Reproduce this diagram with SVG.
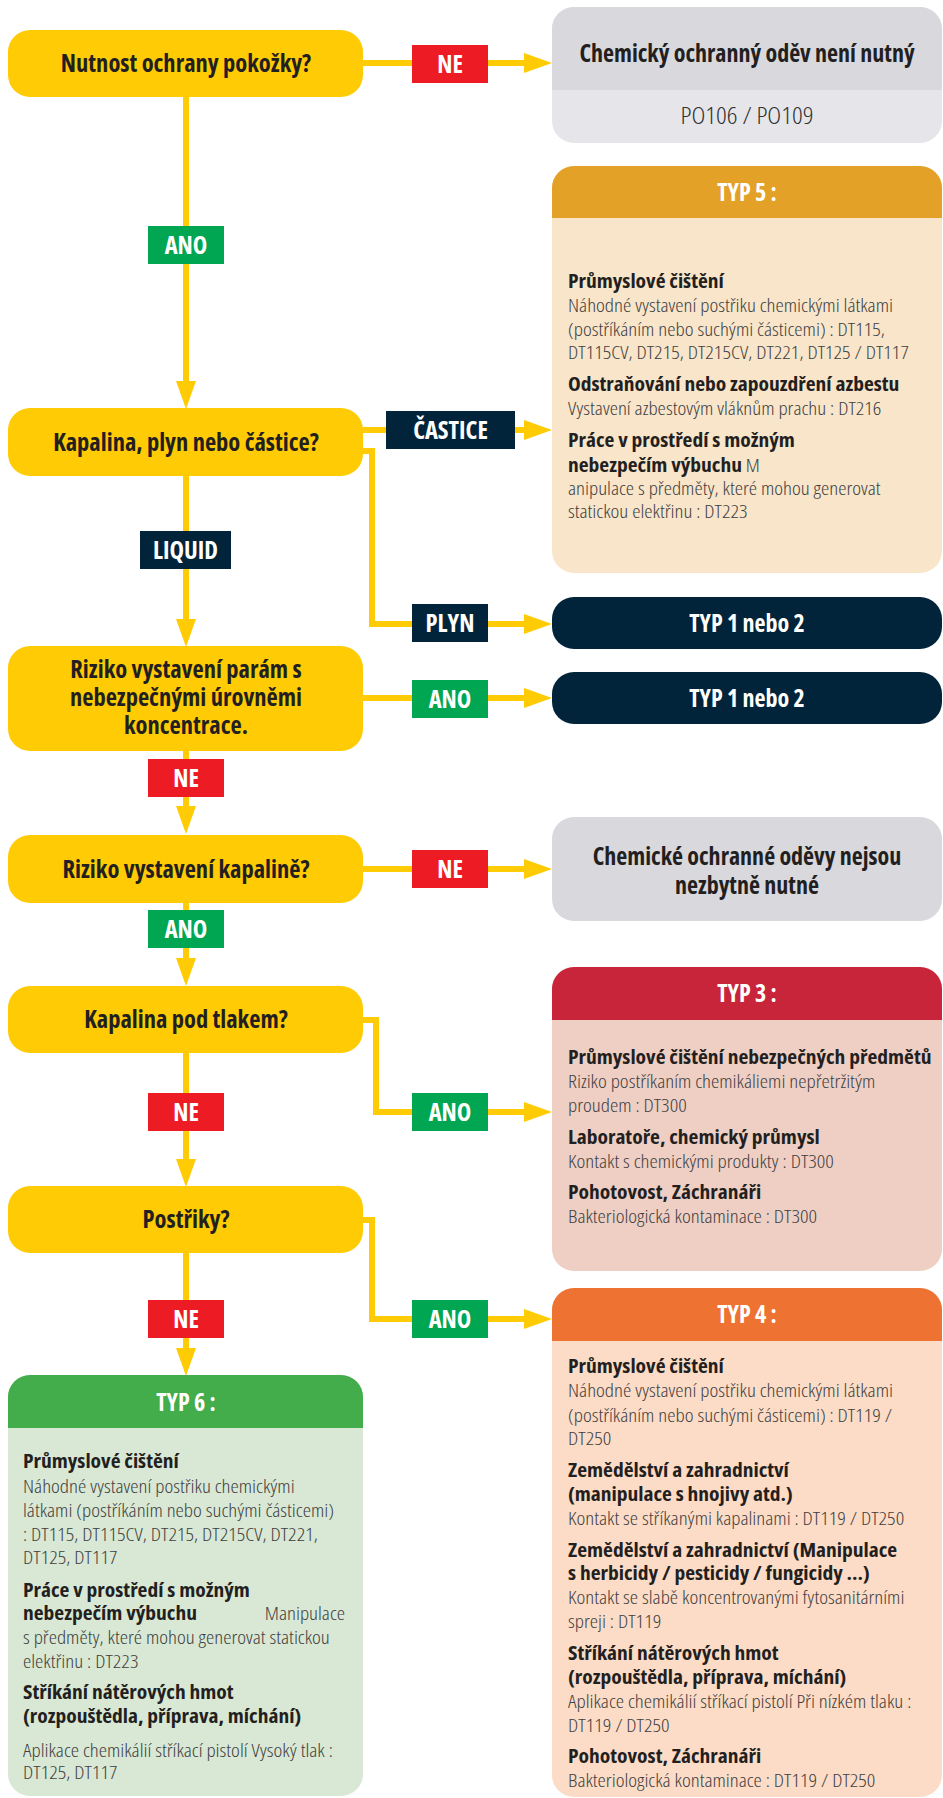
<svg xmlns="http://www.w3.org/2000/svg" width="943" height="1798" viewBox="0 0 943 1798">
<defs>
<style>
.yb{fill:#FFCB05}
.q{font-family:'Open Sans','Liberation Sans',sans-serif;font-stretch:condensed;font-weight:700;font-size:24.5px;fill:#231F20;text-anchor:middle}
.lb{font-family:'Open Sans','Liberation Sans',sans-serif;font-stretch:condensed;font-weight:700;font-size:24.5px;fill:#FFFFFF;text-anchor:middle}
.hd{font-family:'Open Sans','Liberation Sans',sans-serif;font-stretch:condensed;font-weight:700;font-size:24px;fill:#FFFFFF;text-anchor:middle}
.gt{font-family:'Open Sans','Liberation Sans',sans-serif;font-stretch:condensed;font-weight:700;font-size:24px;fill:#231F20;text-anchor:middle}
.b{font-family:'Open Sans','Liberation Sans',sans-serif;font-stretch:condensed;font-weight:700;font-size:18.7px;fill:#231F20}
.t{font-family:'Open Sans','Liberation Sans',sans-serif;font-stretch:condensed;font-weight:300;font-size:18px;fill:#3F3F41}
.po{font-family:'Open Sans','Liberation Sans',sans-serif;font-stretch:condensed;font-weight:300;font-size:24px;fill:#333335;text-anchor:middle}
.c{fill:none;stroke:#FFCB05;stroke-width:6}
.red{fill:#ED1C24}.grn{fill:#00A651}.nav{fill:#02243A}
</style>
<marker id="ah" viewBox="0 0 28 20" refX="0" refY="10" markerWidth="28" markerHeight="20" markerUnits="userSpaceOnUse" orient="auto"><path d="M0,0 L28,10 L0,20 Z" fill="#FFCB05"/></marker>
</defs>
<rect width="943" height="1798" fill="#FFFFFF"/>

<g id="connectors">
<path class="c" d="M363,63 H524" marker-end="url(#ah)"/>
<path class="c" d="M186,97 V381" marker-end="url(#ah)"/>
<path class="c" d="M363,430 H524" marker-end="url(#ah)"/>
<path class="c" d="M363,451 H372 V624 H524" marker-end="url(#ah)"/>
<path class="c" d="M186,476 V619" marker-end="url(#ah)"/>
<path class="c" d="M363,698 H524" marker-end="url(#ah)"/>
<path class="c" d="M186,751 V806" marker-end="url(#ah)"/>
<path class="c" d="M363,869 H524" marker-end="url(#ah)"/>
<path class="c" d="M186,903 V958" marker-end="url(#ah)"/>
<path class="c" d="M363,1020 H376 V1112 H524" marker-end="url(#ah)"/>
<path class="c" d="M186,1053 V1159" marker-end="url(#ah)"/>
<path class="c" d="M363,1220 H372 V1319 H524" marker-end="url(#ah)"/>
<path class="c" d="M186,1253 V1348" marker-end="url(#ah)"/>
<g id="labels">
<rect class="red" x="412" y="45" width="76" height="38"/><text class="lb" x="450" y="73">NE</text>
<rect class="grn" x="148" y="226" width="76" height="38"/><text class="lb" x="186" y="254">ANO</text>
<rect class="nav" x="386" y="411" width="129" height="38"/><text class="lb" x="450.5" y="439">ČASTICE</text>
<rect class="nav" x="140" y="531" width="91" height="38"/><text class="lb" x="185.5" y="559">LIQUID</text>
<rect class="nav" x="412" y="604" width="76" height="38"/><text class="lb" x="450" y="632">PLYN</text>
<rect class="grn" x="412" y="680" width="76" height="38"/><text class="lb" x="450" y="708">ANO</text>
<rect class="red" x="148" y="759" width="76" height="38"/><text class="lb" x="186" y="787">NE</text>
<rect class="red" x="412" y="850" width="76" height="38"/><text class="lb" x="450" y="878">NE</text>
<rect class="grn" x="148" y="910" width="76" height="38"/><text class="lb" x="186" y="938">ANO</text>
<rect class="grn" x="412" y="1093" width="76" height="38"/><text class="lb" x="450" y="1121">ANO</text>
<rect class="red" x="148" y="1093" width="76" height="38"/><text class="lb" x="186" y="1121">NE</text>
<rect class="grn" x="412" y="1300" width="76" height="38"/><text class="lb" x="450" y="1328">ANO</text>
<rect class="red" x="148" y="1300" width="76" height="38"/><text class="lb" x="186" y="1328">NE</text>
</g>
</g>

<g id="q1"><rect class="yb" x="8" y="30" width="355" height="67" rx="22"/><text class="q" x="186" y="72">Nutnost ochrany pokožky?</text></g>
<g id="q2"><rect class="yb" x="8" y="408" width="355" height="68" rx="22"/><text class="q" x="186" y="451">Kapalina, plyn nebo částice?</text></g>
<g id="q3"><rect class="yb" x="8" y="646" width="355" height="105" rx="22"/><text class="q" x="186" y="678">Riziko vystavení parám s</text><text class="q" x="186" y="706">nebezpečnými úrovněmi</text><text class="q" x="186" y="734">koncentrace.</text></g>
<g id="q4"><rect class="yb" x="8" y="835" width="355" height="68" rx="22"/><text class="q" x="186" y="878">Riziko vystavení kapalině?</text></g>
<g id="q5"><rect class="yb" x="8" y="986" width="355" height="67" rx="22"/><text class="q" x="186" y="1028">Kapalina pod tlakem?</text></g>
<g id="q6"><rect class="yb" x="8" y="1186" width="355" height="67" rx="22"/><text class="q" x="186" y="1228">Postřiky?</text></g>

<g id="notneeded1">
<rect x="552" y="7" width="390" height="136" rx="22" fill="#E6E6EA"/>
<path d="M552,90 V29 A22,22 0 0 1 574,7 H920 A22,22 0 0 1 942,29 V90 Z" fill="#D8D8DD"/>
<text class="gt" x="747" y="62">Chemický ochranný oděv není nutný</text>
<text class="po" x="747" y="124" textLength="133" lengthAdjust="spacingAndGlyphs">PO106 / PO109</text>
</g>

<g id="typ5">
<rect x="552" y="166" width="390" height="407" rx="22" fill="#F8E5CA"/>
<path d="M552,218 V188 A22,22 0 0 1 574,166 H920 A22,22 0 0 1 942,188 V218 Z" fill="#E3A128"/>
<text class="hd" x="747" y="201">TYP 5 :</text>
<g transform="matrix(1.15,0,0,1,-85.2,0)">
<text class="b" x="568" y="288">Průmyslové čištění</text>
<text class="b" x="568" y="391">Odstraňování nebo zapouzdření azbestu</text>
<text class="b" x="568" y="447">Práce v prostředí s možným</text>
<text class="b" x="568" y="472">nebezpečím výbuchu <tspan class="t">M</tspan></text>
</g>
<g transform="matrix(1.165,0,0,1,-93.72,0)">
<text class="t" x="568" y="312">Náhodné vystavení postřiku chemickými látkami</text>
<text class="t" x="568" y="336">(postříkáním nebo suchými částicemi) : DT115,</text>
<text class="t" x="568" y="359">DT115CV, DT215, DT215CV, DT221, DT125 / DT117</text>
<text class="t" x="568" y="415">Vystavení azbestovým vláknům prachu : DT216</text>
<text class="t" x="568" y="495">anipulace s předměty, které mohou generovat</text>
<text class="t" x="568" y="518">statickou elektřinu : DT223</text>
</g>
</g>

<g id="typ12a"><rect x="552" y="597" width="390" height="52" rx="22" fill="#02243A"/><text class="hd" x="747" y="632">TYP 1 nebo 2</text></g>
<g id="typ12b"><rect x="552" y="672" width="390" height="52" rx="22" fill="#02243A"/><text class="hd" x="747" y="707">TYP 1 nebo 2</text></g>

<g id="notneeded2">
<rect x="552" y="817" width="390" height="104" rx="22" fill="#D8D8DD"/>
<text class="gt" x="747" y="865">Chemické ochranné oděvy nejsou</text>
<text class="gt" x="747" y="894">nezbytně nutné</text>
</g>

<g id="typ3">
<rect x="552" y="967" width="390" height="304" rx="22" fill="#EFCFC4"/>
<path d="M552,1020 V989 A22,22 0 0 1 574,967 H920 A22,22 0 0 1 942,989 V1020 Z" fill="#C8243A"/>
<text class="hd" x="747" y="1002">TYP 3 :</text>
<g transform="matrix(1.15,0,0,1,-85.2,0)">
<text class="b" x="568" y="1064">Průmyslové čištění nebezpečných předmětů</text>
<text class="b" x="568" y="1144">Laboratoře, chemický průmysl</text>
<text class="b" x="568" y="1199">Pohotovost, Záchranáři</text>
</g>
<g transform="matrix(1.165,0,0,1,-93.72,0)">
<text class="t" x="568" y="1088">Riziko postříkaním chemikáliemi nepřetržitým</text>
<text class="t" x="568" y="1112">proudem : DT300</text>
<text class="t" x="568" y="1168">Kontakt s chemickými produkty : DT300</text>
<text class="t" x="568" y="1223">Bakteriologická kontaminace : DT300</text>
</g>
</g>

<g id="typ4">
<rect x="552" y="1288" width="390" height="509" rx="22" fill="#FCDCC6"/>
<path d="M552,1341 V1310 A22,22 0 0 1 574,1288 H920 A22,22 0 0 1 942,1310 V1341 Z" fill="#EE7232"/>
<text class="hd" x="747" y="1323">TYP 4 :</text>
<g transform="matrix(1.15,0,0,1,-85.2,0)">
<text class="b" x="568" y="1373">Průmyslové čištění</text>
<text class="b" x="568" y="1477">Zemědělství a zahradnictví</text>
<text class="b" x="568" y="1501">(manipulace s hnojivy atd.)</text>
<text class="b" x="568" y="1557">Zemědělství a zahradnictví (Manipulace</text>
<text class="b" x="568" y="1580">s herbicidy / pesticidy / fungicidy ...)</text>
<text class="b" x="568" y="1660">Stříkání nátěrových hmot</text>
<text class="b" x="568" y="1684">(rozpouštědla, příprava, míchání)</text>
<text class="b" x="568" y="1763">Pohotovost, Záchranáři</text>
</g>
<g transform="matrix(1.165,0,0,1,-93.72,0)">
<text class="t" x="568" y="1397">Náhodné vystavení postřiku chemickými látkami</text>
<text class="t" x="568" y="1422">(postříkáním nebo suchými částicemi) : DT119 /</text>
<text class="t" x="568" y="1445">DT250</text>
<text class="t" x="568" y="1525">Kontakt se stříkanými kapalinami : DT119 / DT250</text>
<text class="t" x="568" y="1604">Kontakt se slabě koncentrovanými fytosanitárními</text>
<text class="t" x="568" y="1628">spreji : DT119</text>
<text class="t" x="568" y="1708">Aplikace chemikálií stříkací pistolí Při nízkém tlaku :</text>
<text class="t" x="568" y="1732">DT119 / DT250</text>
<text class="t" x="568" y="1787">Bakteriologická kontaminace : DT119 / DT250</text>
</g>
</g>

<g id="typ6">
<rect x="8" y="1375" width="355" height="421" rx="22" fill="#D9E8D4"/>
<path d="M8,1428 V1397 A22,22 0 0 1 30,1375 H341 A22,22 0 0 1 363,1397 V1428 Z" fill="#43AC4B"/>
<text class="hd" x="186" y="1411">TYP 6 :</text>
<g transform="matrix(1.15,0,0,1,-3.45,0)">
<text class="b" x="23" y="1468">Průmyslové čištění</text>
<text class="b" x="23" y="1597">Práce v prostředí s možným</text>
<text class="b" x="23" y="1620">nebezpečím výbuchu</text>
<text class="b" x="23" y="1699">Stříkání nátěrových hmot</text>
<text class="b" x="23" y="1723">(rozpouštědla, příprava, míchání)</text>
</g>
<g transform="matrix(1.165,0,0,1,-3.795,0)">
<text class="t" x="23" y="1493">Náhodné vystavení postřiku chemickými</text>
<text class="t" x="23" y="1517">látkami (postříkáním nebo suchými částicemi)</text>
<text class="t" x="23" y="1541">: DT115, DT115CV, DT215, DT215CV, DT221,</text>
<text class="t" x="23" y="1564">DT125, DT117</text>
<text class="t" x="299.4" y="1620" text-anchor="end">Manipulace</text>
<text class="t" x="23" y="1644">s předměty, které mohou generovat statickou</text>
<text class="t" x="23" y="1668">elektřinu : DT223</text>
<text class="t" x="23" y="1757">Aplikace chemikálií stříkací pistolí Vysoký tlak :</text>
<text class="t" x="23" y="1779">DT125, DT117</text>
</g>
</g>
</svg>
